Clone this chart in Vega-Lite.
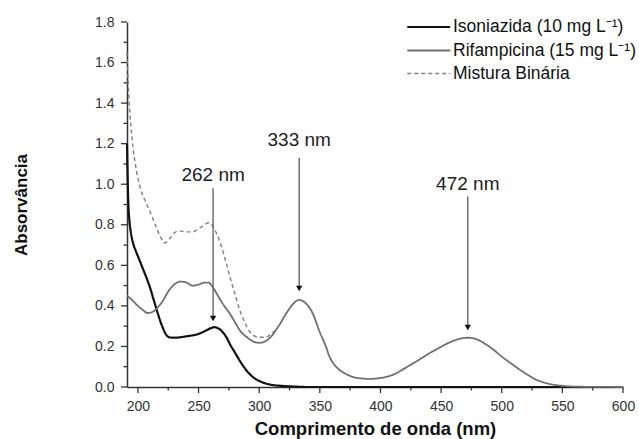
{
  "$schema": "https://vega.github.io/schema/vega-lite/v6.json",
  "autosize": {"type": "none"},
  "padding": {"left": 127, "top": 22, "right": 16, "bottom": 52},
  "width": 496,
  "height": 365,
  "background": "white",
  "config": {
    "view": {"stroke": null},
    "font": "Liberation Sans",
    "axis": {"grid": false}
  },
  "datasets": {
    "spectra": [
      {"s": "I", "x": 191, "y": 1.2}, {"s": "I", "x": 192, "y": 0.92}, {"s": "I", "x": 193, "y": 0.82}, {"s": "I", "x": 194, "y": 0.77},
      {"s": "I", "x": 196, "y": 0.71}, {"s": "I", "x": 198, "y": 0.675}, {"s": "I", "x": 200, "y": 0.645}, {"s": "I", "x": 203, "y": 0.6},
      {"s": "I", "x": 206, "y": 0.555}, {"s": "I", "x": 210, "y": 0.49}, {"s": "I", "x": 213, "y": 0.43}, {"s": "I", "x": 216, "y": 0.37},
      {"s": "I", "x": 220, "y": 0.3}, {"s": "I", "x": 223, "y": 0.26}, {"s": "I", "x": 226, "y": 0.245}, {"s": "I", "x": 230, "y": 0.243},
      {"s": "I", "x": 240, "y": 0.25}, {"s": "I", "x": 250, "y": 0.262}, {"s": "I", "x": 255, "y": 0.275}, {"s": "I", "x": 260, "y": 0.29},
      {"s": "I", "x": 263, "y": 0.295}, {"s": "I", "x": 266, "y": 0.29}, {"s": "I", "x": 270, "y": 0.27}, {"s": "I", "x": 273, "y": 0.245},
      {"s": "I", "x": 276, "y": 0.21}, {"s": "I", "x": 280, "y": 0.17}, {"s": "I", "x": 285, "y": 0.12}, {"s": "I", "x": 290, "y": 0.078},
      {"s": "I", "x": 295, "y": 0.048}, {"s": "I", "x": 300, "y": 0.03}, {"s": "I", "x": 305, "y": 0.018}, {"s": "I", "x": 310, "y": 0.011},
      {"s": "I", "x": 320, "y": 0.005}, {"s": "I", "x": 330, "y": 0.002}, {"s": "I", "x": 340, "y": 0}, {"s": "I", "x": 600, "y": 0},

      {"s": "R", "x": 191, "y": 0.45}, {"s": "R", "x": 195, "y": 0.43}, {"s": "R", "x": 200, "y": 0.4}, {"s": "R", "x": 204, "y": 0.38},
      {"s": "R", "x": 208, "y": 0.365}, {"s": "R", "x": 212, "y": 0.37}, {"s": "R", "x": 216, "y": 0.39}, {"s": "R", "x": 220, "y": 0.42},
      {"s": "R", "x": 226, "y": 0.48}, {"s": "R", "x": 231, "y": 0.51}, {"s": "R", "x": 235, "y": 0.52}, {"s": "R", "x": 240, "y": 0.515},
      {"s": "R", "x": 245, "y": 0.5}, {"s": "R", "x": 250, "y": 0.505}, {"s": "R", "x": 255, "y": 0.515}, {"s": "R", "x": 258, "y": 0.515},
      {"s": "R", "x": 262, "y": 0.49}, {"s": "R", "x": 265, "y": 0.46}, {"s": "R", "x": 270, "y": 0.41}, {"s": "R", "x": 276, "y": 0.36},
      {"s": "R", "x": 280, "y": 0.32}, {"s": "R", "x": 284, "y": 0.28}, {"s": "R", "x": 290, "y": 0.245}, {"s": "R", "x": 295, "y": 0.225},
      {"s": "R", "x": 300, "y": 0.218}, {"s": "R", "x": 305, "y": 0.225}, {"s": "R", "x": 310, "y": 0.25}, {"s": "R", "x": 316, "y": 0.3},
      {"s": "R", "x": 322, "y": 0.36}, {"s": "R", "x": 328, "y": 0.41}, {"s": "R", "x": 333, "y": 0.43}, {"s": "R", "x": 338, "y": 0.415},
      {"s": "R", "x": 344, "y": 0.365}, {"s": "R", "x": 350, "y": 0.27}, {"s": "R", "x": 355, "y": 0.2}, {"s": "R", "x": 358, "y": 0.15},
      {"s": "R", "x": 362, "y": 0.11}, {"s": "R", "x": 366, "y": 0.085}, {"s": "R", "x": 372, "y": 0.063}, {"s": "R", "x": 377, "y": 0.05},
      {"s": "R", "x": 385, "y": 0.042}, {"s": "R", "x": 391, "y": 0.04}, {"s": "R", "x": 398, "y": 0.043}, {"s": "R", "x": 405, "y": 0.05},
      {"s": "R", "x": 412, "y": 0.065}, {"s": "R", "x": 418, "y": 0.085}, {"s": "R", "x": 425, "y": 0.11}, {"s": "R", "x": 432, "y": 0.135},
      {"s": "R", "x": 440, "y": 0.165}, {"s": "R", "x": 446, "y": 0.185}, {"s": "R", "x": 452, "y": 0.205}, {"s": "R", "x": 459, "y": 0.225},
      {"s": "R", "x": 465, "y": 0.237}, {"s": "R", "x": 472, "y": 0.243}, {"s": "R", "x": 478, "y": 0.238}, {"s": "R", "x": 487, "y": 0.21},
      {"s": "R", "x": 493, "y": 0.185}, {"s": "R", "x": 500, "y": 0.15}, {"s": "R", "x": 508, "y": 0.115}, {"s": "R", "x": 515, "y": 0.085},
      {"s": "R", "x": 522, "y": 0.058}, {"s": "R", "x": 528, "y": 0.037}, {"s": "R", "x": 535, "y": 0.022}, {"s": "R", "x": 542, "y": 0.012},
      {"s": "R", "x": 550, "y": 0.006}, {"s": "R", "x": 556, "y": 0.003}, {"s": "R", "x": 570, "y": 0.001}, {"s": "R", "x": 600, "y": 0},

      {"s": "M", "x": 191, "y": 1.65}, {"s": "M", "x": 192, "y": 1.5}, {"s": "M", "x": 193.5, "y": 1.34}, {"s": "M", "x": 196, "y": 1.18},
      {"s": "M", "x": 199, "y": 1.06}, {"s": "M", "x": 202, "y": 0.98}, {"s": "M", "x": 207, "y": 0.905}, {"s": "M", "x": 211, "y": 0.85},
      {"s": "M", "x": 215, "y": 0.79}, {"s": "M", "x": 219, "y": 0.735}, {"s": "M", "x": 222, "y": 0.71}, {"s": "M", "x": 226, "y": 0.73},
      {"s": "M", "x": 230, "y": 0.76}, {"s": "M", "x": 234, "y": 0.77}, {"s": "M", "x": 240, "y": 0.765}, {"s": "M", "x": 245, "y": 0.765},
      {"s": "M", "x": 250, "y": 0.78}, {"s": "M", "x": 255, "y": 0.8}, {"s": "M", "x": 258, "y": 0.81}, {"s": "M", "x": 262, "y": 0.79},
      {"s": "M", "x": 265, "y": 0.755}, {"s": "M", "x": 268, "y": 0.71}, {"s": "M", "x": 272, "y": 0.63}, {"s": "M", "x": 276, "y": 0.54},
      {"s": "M", "x": 280, "y": 0.46}, {"s": "M", "x": 284, "y": 0.38}, {"s": "M", "x": 288, "y": 0.32}, {"s": "M", "x": 292, "y": 0.275},
      {"s": "M", "x": 296, "y": 0.252}, {"s": "M", "x": 300, "y": 0.245}, {"s": "M", "x": 305, "y": 0.245}, {"s": "M", "x": 310, "y": 0.262},
      {"s": "M", "x": 316, "y": 0.3}, {"s": "M", "x": 322, "y": 0.36}, {"s": "M", "x": 328, "y": 0.41}
    ],
    "arrows": [
      {"lambda": 262, "top": 0.98, "tip": 0.33, "head": 0.338, "label": "262 nm", "ty": 1.045},
      {"lambda": 333, "top": 1.13, "tip": 0.48, "head": 0.486, "label": "333 nm", "ty": 1.22},
      {"lambda": 472, "top": 0.94, "tip": 0.29, "head": 0.293, "label": "472 nm", "ty": 1.0}
    ],
    "xticks": [
      {"v": 200, "k": "major"}, {"v": 225, "k": "minor"}, {"v": 250, "k": "major"}, {"v": 275, "k": "minor"},
      {"v": 300, "k": "major"}, {"v": 325, "k": "minor"}, {"v": 350, "k": "major"}, {"v": 375, "k": "minor"},
      {"v": 400, "k": "major"}, {"v": 425, "k": "minor"}, {"v": 450, "k": "major"}, {"v": 475, "k": "minor"},
      {"v": 500, "k": "major"}, {"v": 525, "k": "minor"}, {"v": 550, "k": "major"}, {"v": 575, "k": "minor"},
      {"v": 600, "k": "major"}
    ],
    "yticks": [
      {"v": 0, "k": "major"}, {"v": 0.1, "k": "minor"}, {"v": 0.2, "k": "major"}, {"v": 0.3, "k": "minor"},
      {"v": 0.4, "k": "major"}, {"v": 0.5, "k": "minor"}, {"v": 0.6, "k": "major"}, {"v": 0.7, "k": "minor"},
      {"v": 0.8, "k": "major"}, {"v": 0.9, "k": "minor"}, {"v": 1.0, "k": "major"}, {"v": 1.1, "k": "minor"},
      {"v": 1.2, "k": "major"}, {"v": 1.3, "k": "minor"}, {"v": 1.4, "k": "major"}, {"v": 1.5, "k": "minor"},
      {"v": 1.6, "k": "major"}, {"v": 1.7, "k": "minor"}, {"v": 1.8, "k": "major"}
    ]
  },
  "layer": [
    {
      "data": {"name": "xticks"},
      "transform": [{"filter": "datum.k == 'major'"}],
      "mark": {"type": "rule", "color": "#333", "strokeWidth": 1.3, "clip": false},
      "encoding": {
        "x": {"field": "v", "type": "quantitative"},
        "y": {"datum": 0},
        "y2": {"datum": -0.03}
      }
    },
    {
      "data": {"name": "xticks"},
      "transform": [{"filter": "datum.k == 'minor'"}],
      "mark": {"type": "rule", "color": "#333", "strokeWidth": 1.3, "clip": false},
      "encoding": {
        "x": {"field": "v", "type": "quantitative"},
        "y": {"datum": 0},
        "y2": {"datum": -0.017}
      }
    },
    {
      "data": {"name": "yticks"},
      "transform": [{"filter": "datum.k == 'major'"}],
      "mark": {"type": "rule", "color": "#333", "strokeWidth": 1.3, "clip": false},
      "encoding": {
        "y": {"field": "v", "type": "quantitative"},
        "x": {"datum": 191},
        "x2": {"datum": 186}
      }
    },
    {
      "data": {"name": "yticks"},
      "transform": [{"filter": "datum.k == 'minor'"}],
      "mark": {"type": "rule", "color": "#333", "strokeWidth": 1.3, "clip": false},
      "encoding": {
        "y": {"field": "v", "type": "quantitative"},
        "x": {"datum": 191},
        "x2": {"datum": 188.1}
      }
    },
    {
      "data": {"name": "spectra"},
      "mark": {"type": "line", "interpolate": "monotone"},
      "encoding": {
        "x": {
          "field": "x", "type": "quantitative",
          "scale": {"domain": [191, 600], "nice": false, "zero": false},
          "axis": {
            "orient": "bottom",
            "title": "Comprimento de onda (nm)",
            "values": [200, 250, 300, 350, 400, 450, 500, 550, 600],
            "ticks": false,
            "domainColor": "#333", "domainWidth": 1.5,
            "labelFontSize": 14, "labelColor": "#333", "labelPadding": 12, "labelFlush": false,
            "titleFontSize": 18.5, "titleFontWeight": "bold", "titleColor": "#111", "titlePadding": 6
          }
        },
        "y": {
          "field": "y", "type": "quantitative",
          "scale": {"domain": [0, 1.8], "nice": false},
          "axis": {
            "orient": "left",
            "title": "Absorvância",
            "values": [0, 0.2, 0.4, 0.6, 0.8, 1.0, 1.2, 1.4, 1.6, 1.8],
            "format": ".1f",
            "ticks": false,
            "domainColor": "#333", "domainWidth": 1.5,
            "labelFontSize": 14, "labelColor": "#333", "labelPadding": 13,
            "titleFontSize": 17, "titleFontWeight": "bold", "titleColor": "#111", "titlePadding": 64
          }
        },
        "color": {
          "field": "s", "type": "nominal",
          "scale": {"domain": ["I", "R", "M"], "range": ["#111111", "#707070", "#808080"]},
          "legend": {
            "title": null, "orient": "none", "legendX": 279, "legendY": -7,
            "symbolType": "M-1,0H3", "symbolSize": 462, "labelFontSize": 17.5, "labelColor": "#111",
            "labelOffset": 23, "rowPadding": 2.5, "padding": 0, "labelLimit": 400,
            "labelExpr": "datum.label == 'I' ? 'Isoniazida (10 mg L⁻¹)' : datum.label == 'R' ? 'Rifampicina (15 mg L⁻¹)' : 'Mistura Binária'"
          }
        },
        "strokeDash": {
          "field": "s", "type": "nominal",
          "scale": {"domain": ["I", "R", "M"], "range": [[1, 0], [1, 0], [4, 3]]},
          "legend": null
        },
        "strokeWidth": {
          "field": "s", "type": "nominal",
          "scale": {"domain": ["I", "R", "M"], "range": [2.2, 1.4, 1.5]},
          "legend": null
        }
      }
    },
    {
      "data": {"name": "arrows"},
      "mark": {"type": "rule", "color": "#707070", "strokeWidth": 1.5},
      "encoding": {
        "x": {"field": "lambda", "type": "quantitative"},
        "y": {"field": "top", "type": "quantitative"},
        "y2": {"field": "tip"}
      }
    },
    {
      "data": {"name": "arrows"},
      "mark": {"type": "point", "shape": "triangle-down", "filled": true, "color": "#111", "size": 40, "opacity": 1},
      "encoding": {
        "x": {"field": "lambda", "type": "quantitative"},
        "y": {"field": "head", "type": "quantitative"}
      }
    },
    {
      "data": {"name": "arrows"},
      "mark": {"type": "text", "fontSize": 19, "color": "#222", "align": "center", "baseline": "middle"},
      "encoding": {
        "x": {"field": "lambda", "type": "quantitative"},
        "y": {"field": "ty", "type": "quantitative"},
        "text": {"field": "label"}
      }
    }
  ]
}
